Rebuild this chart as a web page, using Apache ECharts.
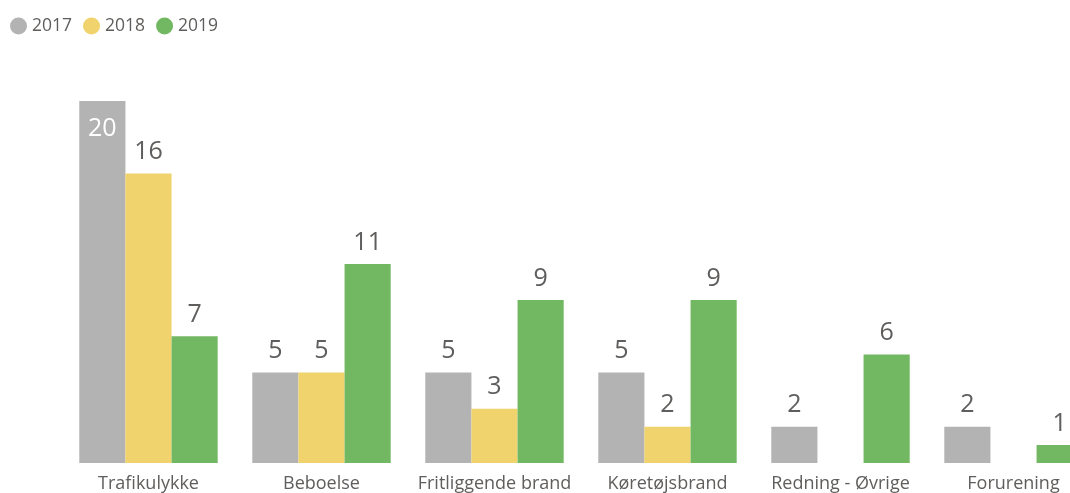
<!DOCTYPE html>
<html>
<head>
<meta charset="utf-8">
<script src="https://cdn.jsdelivr.net/npm/echarts@6/dist/echarts.min.js"></script>
<style>
html, body { margin: 0; padding: 0; background: #fff; }
#main { width: 1070px; height: 493px; }
</style>
</head>
<body>
<div id="main"></div>
<script>
var categories = ['Trafikulykke', 'Beboelse', 'Fritliggende brand', 'Køretøjsbrand', 'Redning - Øvrige', 'Forurening'];
var seriesNames = ['2017', '2018', '2019'];
var data2017 = [20, 5, 5, 5, 2, 2];
var data2018 = [16, 5, 3, 2, null, null];
var data2019 = [7, 11, 9, 9, 6, 1];
var colors = ['#b3b3b3', '#f0d36c', '#72b862'];

var myChart = echarts.init(document.getElementById('main'));
var font = '"Open Sans", "Noto Sans", sans-serif';

function labelled(values) {
    // tallest bar gets its label inside, white, like the original
    return values.map(function (v) {
        if (v === 20) {
            return {
                value: v,
                label: { position: 'insideTop', color: '#ffffff', distance: 15 }
            };
        }
        return v;
    });
}

var labelOption = {
    show: true,
    position: 'top',
    distance: 9,
    fontSize: 25,
    fontFamily: font,
    color: '#605e5c'
};

var allData = [data2017, data2018, data2019];
var series = seriesNames.map(function (name, i) {
    return {
        name: name,
        type: 'bar',
        barGap: 0,
        barCategoryGap: '20%',
        label: labelOption,
        itemStyle: { color: colors[i] },
        data: labelled(allData[i])
    };
});

option = {
    color: colors,
    animation: false,
    legend: {
        left: 5,
        top: 12,
        icon: 'circle',
        itemWidth: 17,
        itemHeight: 17,
        itemGap: 11,
        textStyle: { fontSize: 17.5, fontFamily: font, color: '#605e5c' },
        data: seriesNames
    },
    grid: {
        left: 62,
        width: 1038,
        top: 101,
        bottom: 30,
        containLabel: false,
        outerBoundsMode: 'none'
    },
    xAxis: {
        type: 'category',
        data: categories,
        axisLine: { show: false },
        axisTick: { show: false },
        axisLabel: {
            interval: 0,
            margin: 12,
            fontSize: 18,
            fontFamily: font,
            color: '#605e5c'
        }
    },
    yAxis: {
        type: 'value',
        min: 0,
        max: 20,
        show: false,
        splitLine: { show: false }
    },
    series: series
};

myChart.setOption(option, true);
</script>
</body>
</html>
